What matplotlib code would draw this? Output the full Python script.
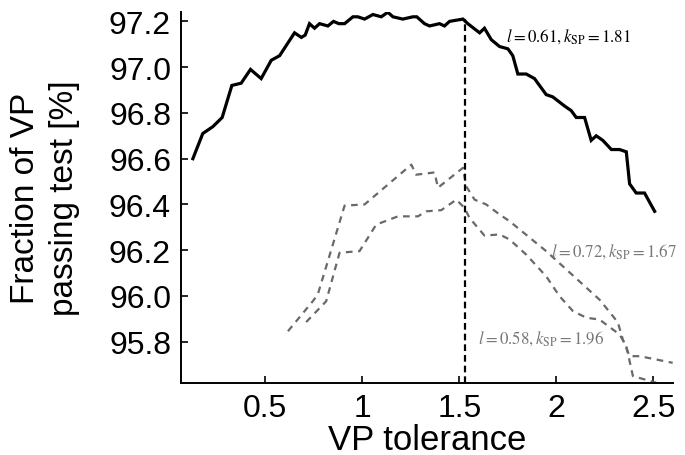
import numpy as np
import matplotlib
matplotlib.use('Agg')
import matplotlib.pyplot as plt
from matplotlib.ticker import FormatStrFormatter

# solid curve, l = 0.61, k_SP = 1.81
x_main = [0.127, 0.178, 0.230, 0.278, 0.328, 0.376, 0.424, 0.479, 0.531, 0.574,
          0.651, 0.686, 0.706, 0.728, 0.754, 0.780, 0.823, 0.852, 0.879, 0.909,
          0.952, 0.977, 1.012, 1.055, 1.098, 1.132, 1.158, 1.209, 1.261, 1.281,
          1.321, 1.347, 1.398, 1.424, 1.450, 1.519, 1.544, 1.605, 1.630, 1.665,
          1.708, 1.751, 1.776, 1.802, 1.845, 1.888, 1.905, 1.948, 1.982, 2.043,
          2.077, 2.103, 2.146, 2.180, 2.206, 2.240, 2.284, 2.326, 2.361, 2.378,
          2.412, 2.455, 2.507]
y_main = [96.60, 96.71, 96.74, 96.78, 96.92, 96.93, 96.99, 96.95, 97.03, 97.05,
          97.15, 97.13, 97.14, 97.19, 97.17, 97.19, 97.18, 97.20, 97.19, 97.19,
          97.22, 97.22, 97.21, 97.23, 97.22, 97.24, 97.22, 97.21, 97.22, 97.22,
          97.19, 97.18, 97.19, 97.18, 97.20, 97.21, 97.19, 97.15, 97.17, 97.12,
          97.09, 97.08, 97.05, 96.97, 96.97, 96.95, 96.93, 96.88, 96.87, 96.83,
          96.81, 96.78, 96.78, 96.68, 96.70, 96.68, 96.64, 96.64, 96.63, 96.49,
          96.45, 96.45, 96.37]

# dashed curve, l = 0.72, k_SP = 1.67
x_a = [0.617, 0.745, 0.771, 0.909, 1.012, 1.253, 1.278, 1.373, 1.390, 1.519,
       1.536, 1.579, 1.639, 1.708, 1.759, 1.948, 2.223, 2.292, 2.318, 2.343,
       2.378, 2.430, 2.600]
y_a = [95.846, 95.977, 96.007, 96.395, 96.400, 96.574, 96.530, 96.540, 96.473, 96.560,
       96.479, 96.421, 96.400, 96.356, 96.327, 96.196, 95.984, 95.912, 95.883, 95.810,
       95.737, 95.737, 95.708]

# dashed curve, l = 0.58, k_SP = 1.96
x_b = [0.711, 0.814, 0.883, 0.986, 1.072, 1.184, 1.287, 1.330, 1.407, 1.485,
       1.527, 1.553, 1.630, 1.708, 1.759, 1.845, 1.948, 2.017, 2.086, 2.155,
       2.223, 2.326, 2.361, 2.395, 2.515]
y_b = [95.886, 95.977, 96.189, 96.196, 96.312, 96.348, 96.348, 96.370, 96.375, 96.421,
       96.385, 96.341, 96.264, 96.269, 96.247, 96.181, 96.086, 95.999, 95.934, 95.905,
       95.897, 95.832, 95.781, 95.650, 95.621]

x_opt = 1.53
y_opt = 97.21

labels = [r'$l = 0.61, k_{\mathrm{SP}} = 1.81$',
          r'$l = 0.72, k_{\mathrm{SP}} = 1.67$',
          r'$l = 0.58, k_{\mathrm{SP}} = 1.96$']
label_pos = [(1.742, 97.14), (1.974, 96.20), (1.596, 95.817)]
label_col = ['black', '#777777', '#777777']

plt.rcParams['font.family'] = ['Liberation Sans', 'DejaVu Sans']
plt.rcParams['mathtext.fontset'] = 'stix'

fig = plt.figure(figsize=(6.85, 4.56), dpi=100)
ax = fig.add_axes([0.264, 0.158, 0.718, 0.813])

ax.plot(x_main, y_main, color='black', lw=2.3, solid_joinstyle='miter')
ax.plot(x_a, y_a, color='#696969', lw=1.6, linestyle=(0, (3, 2.5)))
ax.plot(x_b, y_b, color='#696969', lw=1.6, linestyle=(0, (3, 2.5)))
ax.vlines(x_opt, 95.62, y_opt, color='black', lw=1.6, linestyle=(0, (3, 1.8)))

for txt, (tx, ty), c in zip(labels, label_pos, label_col):
    ax.text(tx, ty, txt, color=c, fontsize=12.2, va='center', ha='left')

ax.set_xlim(0.065, 2.6)
ax.set_ylim(95.62, 97.24)
ax.set_xticks([0.5, 1, 1.5, 2, 2.5])
ax.set_yticks([95.8, 96.0, 96.2, 96.4, 96.6, 96.8, 97.0, 97.2])
ax.xaxis.set_major_formatter(FormatStrFormatter('%g'))
ax.yaxis.set_major_formatter(FormatStrFormatter('%.1f'))
ax.tick_params(direction='in', length=5, width=1.2, labelsize=23)
ax.tick_params(axis='y', pad=7)
ax.tick_params(axis='x', pad=7)

for side in ['top', 'right']:
    ax.spines[side].set_visible(False)
for side in ['left', 'bottom']:
    ax.spines[side].set_linewidth(1.4)

ax.set_xlabel('VP tolerance', fontsize=25, labelpad=0)
ax.set_ylabel('Fraction of VP\npassing test [%]', fontsize=24, linespacing=1.35)
ax.yaxis.set_label_coords(-0.205, 0.5)

fig.savefig('out.png', dpi=100)
